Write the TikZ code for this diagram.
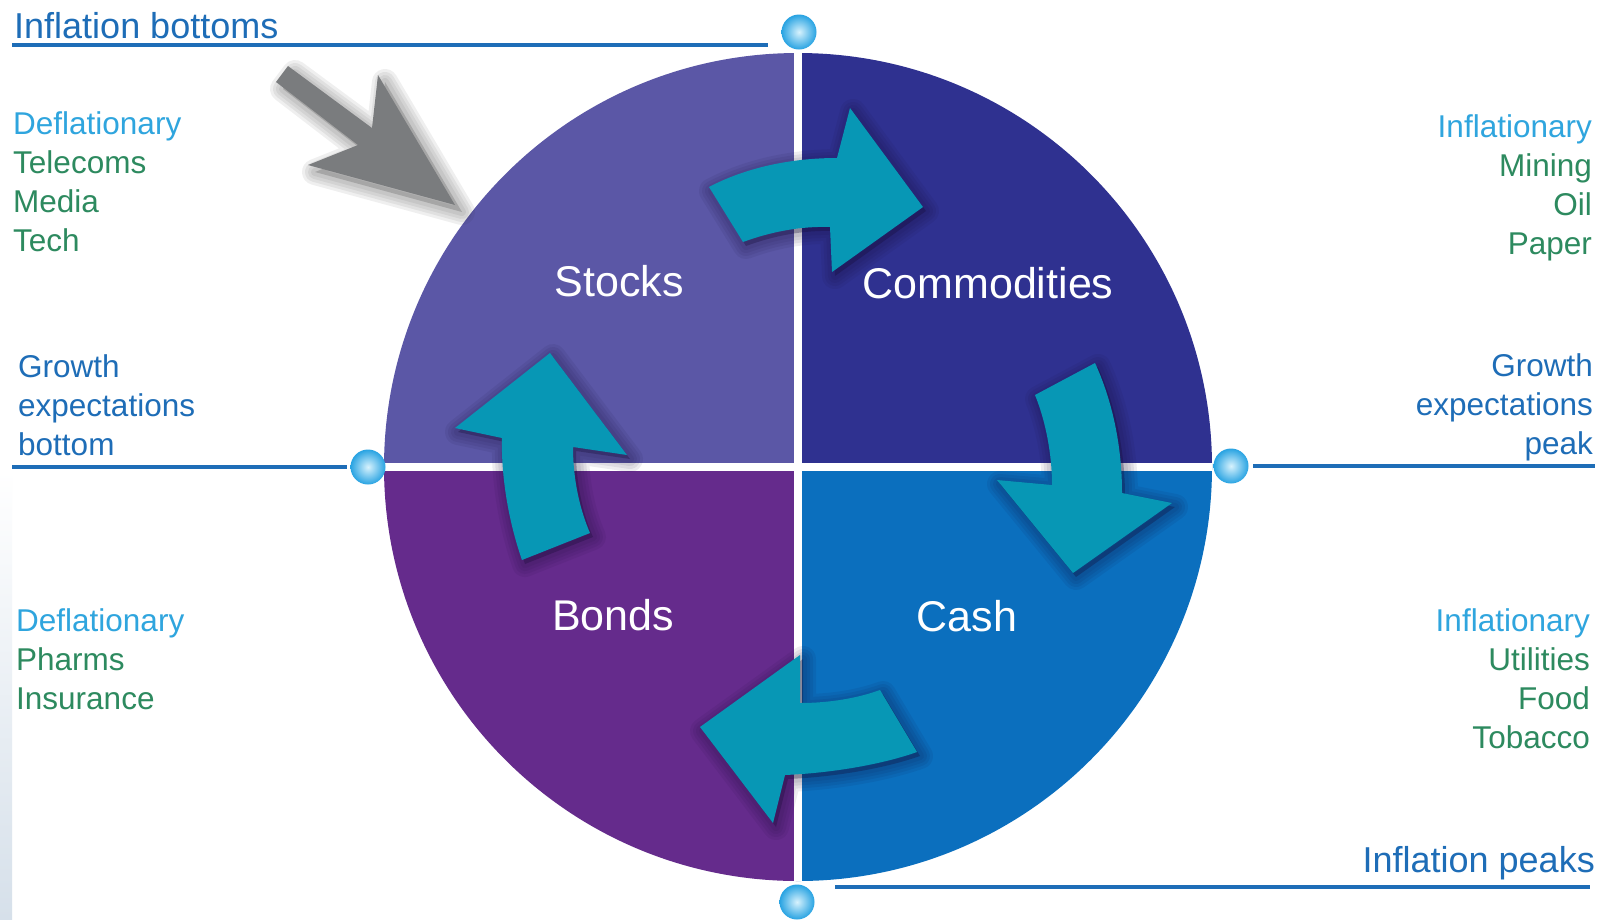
\documentclass[tikz,border=0pt]{standalone}
\usepackage{fontspec}
\setmainfont{Liberation Sans}
\definecolor{qstocks}{RGB}{91,87,166}
\definecolor{qcomm}{RGB}{47,49,144}
\definecolor{qbonds}{RGB}{101,43,140}
\definecolor{qcash}{RGB}{11,111,190}
\definecolor{teal}{RGB}{7,151,181}
\definecolor{darkblue}{RGB}{30,109,183}
\definecolor{lightblue}{RGB}{47,165,222}
\definecolor{sectgreen}{RGB}{45,138,95}
\definecolor{greyarrow}{RGB}{122,124,126}
\definecolor{dotblue}{RGB}{40,163,226}
\definecolor{dotlight}{RGB}{215,242,253}
\definecolor{shadowcol}{RGB}{20,10,50}
\definecolor{greyshadow}{RGB}{40,40,40}
\newcommand\sidefont{\fontsize{31.5}{39}\selectfont}
\newcommand\headfont{\fontsize{36}{43}\selectfont}
\newcommand\bigfont{\fontsize{43}{50}\selectfont}
\newcommand\arrowpathA{(709,187) .. controls (745,168) and (790,158) .. (837,158) -- (850,108) -- (923,207) -- (832,272) -- (830,227) .. controls (800,226) and (770,232) .. (743,242) -- cycle}
\newcommand\arrowpathB{(1035,395) -- (1095,363) .. controls (1112,400) and (1122,445) .. (1122,493) -- (1172,503) -- (1073,573) -- (997,480) -- (1052,485) .. controls (1052,455) and (1046,422) .. (1035,395) -- cycle}
\newcommand\arrowpathC{(880,690) -- (917,752) .. controls (880,765) and (830,773) .. (785,775) -- (773,823) -- (700,727) -- (800,655) -- (800,703) .. controls (830,703) and (858,698) .. (880,690) -- cycle}
\newcommand\arrowpathD{(522,560) -- (590,533) .. controls (580,510) and (573,480) .. (573,447) -- (627,455) -- (550,353) -- (455,428) -- (502,438) .. controls (501,475) and (508,520) .. (522,560) -- cycle}
\newcommand\arrowpathG{(288,66) -- (372,128) -- (378,75) -- (455,205) -- (308,165) -- (358,145) -- (276,82) -- cycle}
% soft shadow: #1 shift, #2 path, #3 core opacity, #4 colour
\newcommand\softshadow[4]{%
  \begin{scope}[shift={#1}]
    \foreach \w in {26,20,14,8} {\draw[#4,opacity=0.07,line width=\w pt,line join=round] #2;}
    \fill[#4,opacity=#3] #2;
  \end{scope}}
\begin{document}
\begin{tikzpicture}[x=1pt,y=-1pt,
  sidelabel/.style={inner sep=0pt,font=\sidefont},
  headlabel/.style={inner sep=0pt,font=\headfont,text=darkblue},
  quadlabel/.style={inner sep=0pt,font=\bigfont,text=white},
  axisline/.style={draw=darkblue,line width=4pt},
  dividerline/.style={draw=white,line width=8pt},
  cyclearrow/.style={fill=teal},
  pointerarrow/.style={fill=greyarrow},
  dotball/.style={inner color=dotlight,outer color=dotblue}
]
\useasboundingbox (0,0) rectangle (1608,919);
\fill[white] (0,0) rectangle (1608,919);
% faint strip at left edge
\shade[top color=white,bottom color={rgb,255:red,214;green,224;blue,234}] (0,470) rectangle (12,919);

\coordinate (c) at (798,467);
\coordinate (dtop) at (799,32);
\coordinate (dleft) at (368,467);
\coordinate (dright) at (1231,466);
\coordinate (dbot) at (797,902);

% quadrants
\begin{scope}
  \clip (c) circle[radius=414];
  \fill[qstocks] (c) rectangle ++(-420,-420);
  \fill[qcomm] (c) rectangle ++(420,-420);
  \fill[qbonds] (c) rectangle ++(-420,420);
  \fill[qcash] (c) rectangle ++(420,420);
\end{scope}
\draw[dividerline] ([xshift=-414pt]c) -- ([xshift=414pt]c);
\draw[dividerline] ([yshift=414pt]c) -- ([yshift=-414pt]c);

% axis lines
\coordinate (ltopA) at (12,45);
\coordinate (ltopB) at (768,45);
\coordinate (lleftA) at (12,467);
\coordinate (lleftB) at (347,467);
\coordinate (lrightA) at (1253,466);
\coordinate (lrightB) at (1595,466);
\coordinate (lbotA) at (835,887);
\coordinate (lbotB) at (1590,887);
\draw[axisline] (ltopA) -- (ltopB);
\draw[axisline] (lleftA) -- (lleftB);
\draw[axisline] (lrightA) -- (lrightB);
\draw[axisline] (lbotA) -- (lbotB);

% dots
\foreach \d in {dtop,dleft,dright,dbot}
  \shade[dotball] (\d) circle[radius=17.5];

% grey pointer arrow
\softshadow{(7,7)}{\arrowpathG}{0.2}{greyshadow}
\fill[pointerarrow] \arrowpathG;

% cycle arrows
\softshadow{(3,4)}{\arrowpathA}{0.3}{shadowcol}
\softshadow{(3,4)}{\arrowpathB}{0.3}{shadowcol}
\softshadow{(3,4)}{\arrowpathC}{0.3}{shadowcol}
\softshadow{(3,4)}{\arrowpathD}{0.3}{shadowcol}
\fill[cyclearrow] \arrowpathA;
\fill[cyclearrow] \arrowpathB;
\fill[cyclearrow] \arrowpathC;
\fill[cyclearrow] \arrowpathD;

% quadrant labels
\node[quadlabel] (stocks) at (619,281) {Stocks};
\node[quadlabel] (commodities) at (988,283) {Commodities};
\node[quadlabel] (bonds) at (613,615) {Bonds};
\node[quadlabel] (cash) at (967,616) {Cash};

% headings
\node[headlabel,anchor=base west] (infbot) at (14,38) {Inflation bottoms};
\node[headlabel,anchor=base east] (infpeak) at (1595,872) {Inflation peaks};

% left top group
\node[sidelabel,anchor=base west,text=lightblue] (lt1) at (13,134) {Deflationary};
\node[sidelabel,anchor=base west,text=sectgreen] (lt2) at (13,173) {Telecoms};
\node[sidelabel,anchor=base west,text=sectgreen] (lt3) at (13,212) {Media};
\node[sidelabel,anchor=base west,text=sectgreen] (lt4) at (13,251) {Tech};

% right top group
\node[sidelabel,anchor=base east,text=lightblue] (rt1) at (1592,137) {Inflationary};
\node[sidelabel,anchor=base east,text=sectgreen] (rt2) at (1592,176) {Mining};
\node[sidelabel,anchor=base east,text=sectgreen] (rt3) at (1592,215) {Oil};
\node[sidelabel,anchor=base east,text=sectgreen] (rt4) at (1592,254) {Paper};

% middle left
\node[sidelabel,anchor=base west,text=darkblue] (ml1) at (18,377) {Growth};
\node[sidelabel,anchor=base west,text=darkblue] (ml2) at (18,416) {expectations};
\node[sidelabel,anchor=base west,text=darkblue] (ml3) at (18,455) {bottom};

% middle right
\node[sidelabel,anchor=base east,text=darkblue] (mr1) at (1593,376) {Growth};
\node[sidelabel,anchor=base east,text=darkblue] (mr2) at (1593,415) {expectations};
\node[sidelabel,anchor=base east,text=darkblue] (mr3) at (1593,454) {peak};

% bottom left
\node[sidelabel,anchor=base west,text=lightblue] (lb1) at (16,631) {Deflationary};
\node[sidelabel,anchor=base west,text=sectgreen] (lb2) at (16,670) {Pharms};
\node[sidelabel,anchor=base west,text=sectgreen] (lb3) at (16,709) {Insurance};

% bottom right
\node[sidelabel,anchor=base east,text=lightblue] (rb1) at (1590,631) {Inflationary};
\node[sidelabel,anchor=base east,text=sectgreen] (rb2) at (1590,670) {Utilities};
\node[sidelabel,anchor=base east,text=sectgreen] (rb3) at (1590,709) {Food};
\node[sidelabel,anchor=base east,text=sectgreen] (rb4) at (1590,748) {Tobacco};
\end{tikzpicture}
\end{document}
